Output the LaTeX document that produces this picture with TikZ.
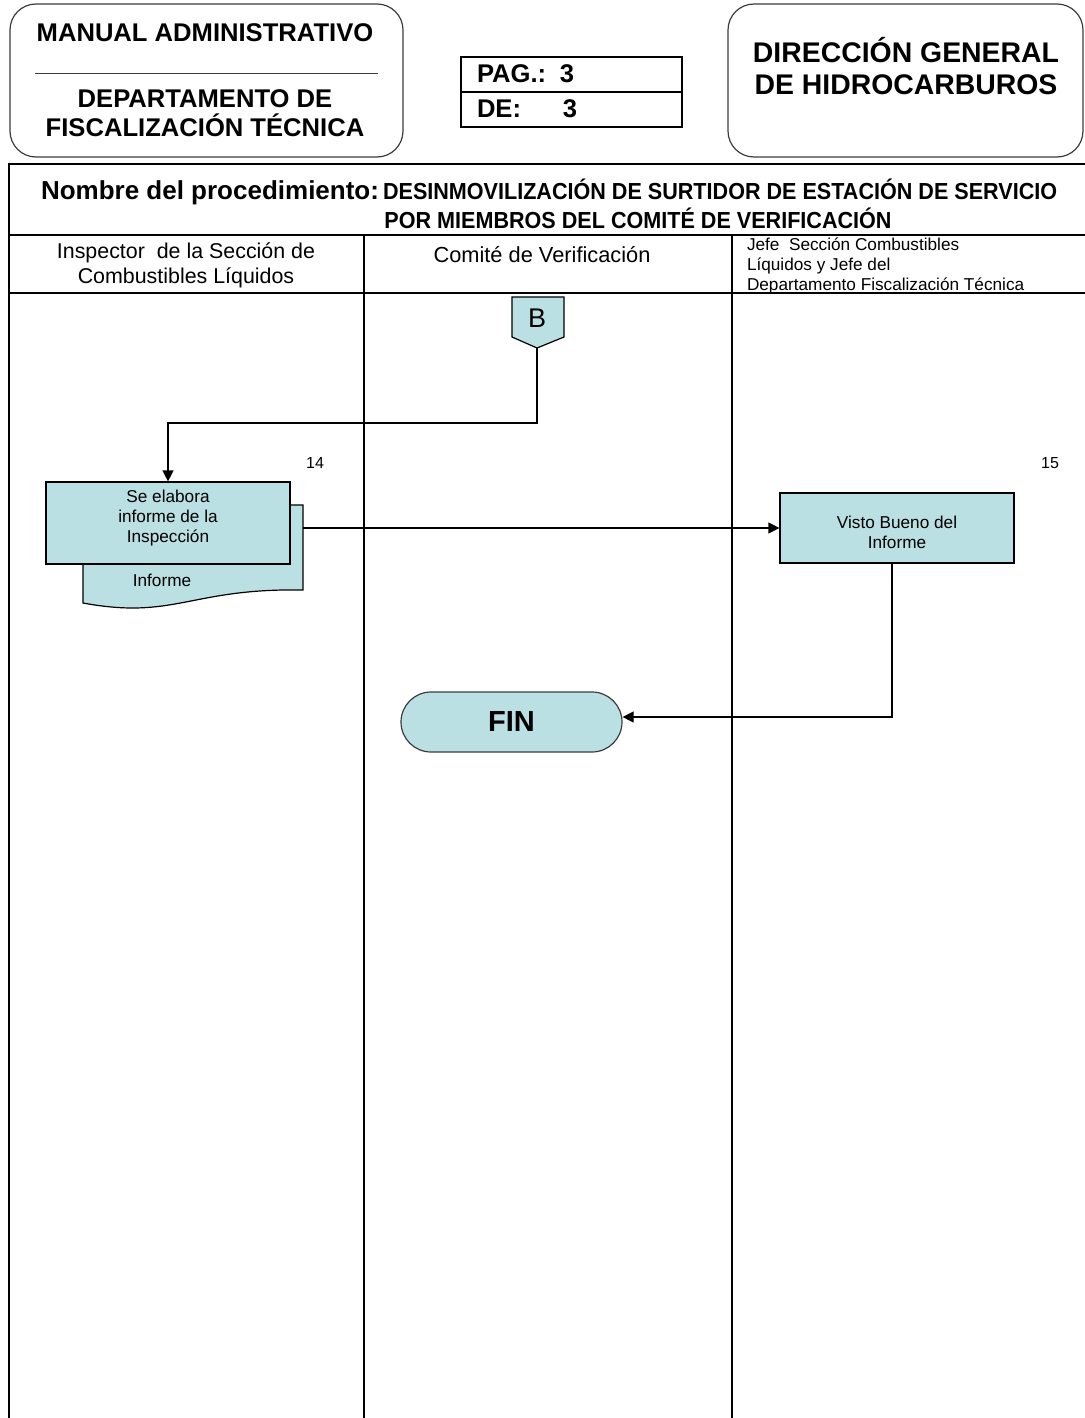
\documentclass[tikz,border=0pt]{standalone}
\usepackage{fontspec}
\setmainfont{Liberation Sans}
\newfontfamily\narrowfont[FakeStretch=0.93]{Liberation Sans}
\usetikzlibrary{arrows.meta,shapes.misc,calc}
\definecolor{procfill}{RGB}{187,224,227}
\definecolor{framegray}{RGB}{60,60,60}

\tikzset{
  frame/.style={draw=black, line width=0.7pt},
  lane/.style={draw=black, line width=0.6pt},
  headbox/.style={draw=framegray, line width=0.6pt, rounded corners=13pt},
  procbox/.style={draw=black, fill=procfill, line width=0.6pt, inner sep=2pt,
                  align=center, font=\fontsize{8.6}{10}\selectfont},
  flow/.style={draw=black, line width=0.6pt},
  arrowflow/.style={flow, -{Triangle[length=5.5pt,width=5.5pt]}},
  txt/.style={inner sep=0pt, outer sep=0pt},
  num/.style={txt, font=\fontsize{8}{10}\selectfont},
  headfont/.style={font=\bfseries\fontsize{12.8}{14.5}\selectfont},
  titlefont/.style={font=\narrowfont\bfseries\fontsize{11.6}{13}\selectfont},
}

\begin{document}
\begin{tikzpicture}[x=0.5pt, y=-0.5pt]
\useasboundingbox (0,0) rectangle (1085,1418);

% ---------- page header ----------
\draw[headbox] (10,4) rectangle (403,157);
\node[txt, headfont] (manual) at (205,33) {MANUAL ADMINISTRATIVO};
\draw[line width=0.5pt, draw=framegray] (35,74) -- (378,74);
\node[txt, headfont, align=center] (depto) at (205,113)
  {DEPARTAMENTO DE\\FISCALIZACIÓN TÉCNICA};

\draw[line width=0.6pt] (461,57) rectangle (682,127);
\draw[line width=0.6pt] (461,92) -- (682,92);
\node[txt, headfont, anchor=west] (pag) at (477,74) {PAG.:};
\node[txt, headfont] (pagn) at (567,74) {3};
\node[txt, headfont, anchor=west] (de) at (477,109) {DE:};
\node[txt, headfont] (den) at (570,109) {3};

\draw[headbox] (728,4) rectangle (1083,157);
\node[txt, align=center, font=\bfseries\fontsize{14.2}{16}\selectfont] (dgh) at (906,66)
  {DIRECCIÓN GENERAL\\DE HIDROCARBUROS};

% ---------- procedure frame and swimlanes ----------
\draw[frame] (1085,164) -- (9,164) -- (9,1418);
\draw[lane] (9,235) -- (1085,235);
\draw[lane] (9,293) -- (1085,293);
\draw[lane] (364,235) -- (364,1418);
\draw[lane] (732,235) -- (732,1418);

\node[txt, anchor=base west] (titulo) at (41,199)
  {\bfseries\fontsize{13}{15}\selectfont Nombre del procedimiento:\hspace{2pt}{\narrowfont\bfseries\fontsize{11.6}{13}\selectfont DESINMOVILIZACIÓN DE SURTIDOR DE ESTACIÓN DE SERVICIO}};
\node[txt, titlefont] (titulo2) at (638,218)
  {POR MIEMBROS DEL COMITÉ DE VERIFICACIÓN};

\node[txt, align=center, font=\fontsize{10.7}{12.5}\selectfont] (lane1) at (186,265)
  {Inspector\ \ de la Sección de\\Combustibles Líquidos};
\node[txt, font=\fontsize{10.9}{12}\selectfont] (lane2) at (542,255) {Comité de Verificación};
\node[txt, anchor=north west, align=left, font=\fontsize{8.6}{10}\selectfont] (lane3) at (747,238)
  {Jefe\ \ Sección Combustibles\\Líquidos y Jefe del\\Departamento Fiscalización Técnica};

% ---------- flow ----------
% off-page connector B
\draw[flow, fill=procfill] (512,297) -- (564,297) -- (564,337) -- (537,348) -- (512,337) -- cycle;
\coordinate (Btip) at (537,348);
\node[txt, font=\fontsize{13.5}{14}\selectfont] (B) at (537,318) {B};

% document behind step 14
\draw[flow, fill=procfill] (83,505) -- (303,505) -- (303,590)
  .. controls (190,588) and (175,620) .. (83,603) -- cycle;
\coordinate (docE) at (303,528);
\node[txt, font=\fontsize{8.6}{10}\selectfont] (doc) at (162,580) {Informe};

% step 14
\node[procbox, minimum width=122pt, minimum height=41pt] (p14) at (168,523) {};
\node[txt, align=center, font=\fontsize{8.6}{10}\selectfont] (t14) at (168,518)
  {Se elabora\\informe de la\\Inspección};
\node[num] (n14) at (315,463) {14};

% step 15
\node[procbox, minimum width=117pt, minimum height=35pt] (p15) at (897,528) {};
\node[txt, align=center, font=\fontsize{8.6}{10}\selectfont] (t15) at (897,532)
  {Visto Bueno del\\Informe};
\node[num] (n15) at (1050,463) {15};

% end terminator
\node[draw=framegray, fill=procfill, line width=0.6pt, rounded rectangle,
      minimum width=110.5pt, minimum height=30pt, inner sep=0pt,
      font=\bfseries\fontsize{14.5}{16}\selectfont] (fin) at (511.5,722) {FIN};

% connectors
\draw[arrowflow] (Btip) -- (Btip |- 0,423) -| (p14.north);
\draw[arrowflow] (docE) -- (docE -| p15.west);
\draw[arrowflow] ($(p15.south)+(-5,0)$) |- ($(fin.east)+(0,-5)$);
\end{tikzpicture}
\end{document}
